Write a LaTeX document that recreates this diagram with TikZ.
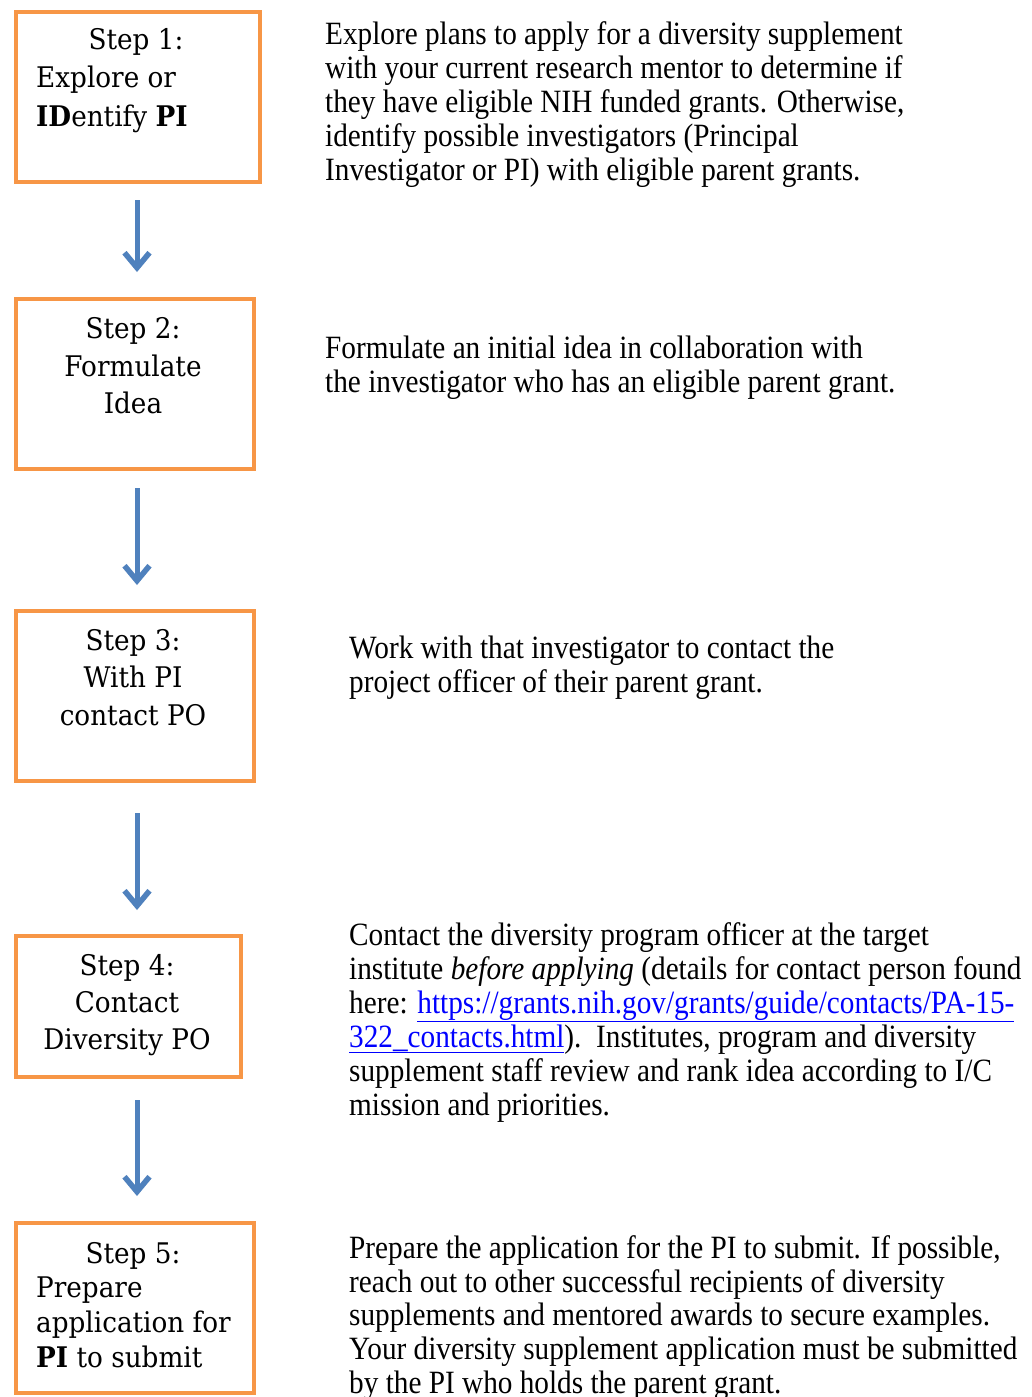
\documentclass[tikz,border=0pt]{standalone}
\usepackage{fontspec}
\setmainfont{Liberation Serif}
\newfontfamily\descfont[FakeStretch=0.9]{Liberation Serif}
\newfontfamily\boxfont[FakeStretch=0.925]{DejaVu Serif}
\usetikzlibrary{arrows.meta}
\definecolor{borange}{HTML}{F79646}
\definecolor{barrow}{HTML}{4F81BD}
\definecolor{linkblue}{HTML}{0000FF}
\begin{document}
\begin{tikzpicture}[x=1pt,y=-1pt,
  stepbox/.style={draw=borange,line width=4pt,inner sep=0pt,anchor=north west},
  desc/.style={anchor=base west,inner sep=0pt,font=\descfont\fontsize{32.5}{34}\selectfont},
  bt/.style={inner sep=0pt,anchor=base,font=\boxfont\fontsize{28.4}{37}\selectfont},
  btl/.style={bt,anchor=base west},
  flow/.style={draw=barrow,line width=5pt,-{Straight Barb[length=15pt,width=25pt,line width=5.5pt]}}]
\useasboundingbox (0,0) rectangle (1031,1397);
\clip (0,0) rectangle (1031,1397);
\fill[white] (0,0) rectangle (1031,1397);

% boxes
\node[stepbox,minimum width=244pt,minimum height=170pt] (b1) at (14,10) {};
\node[stepbox,minimum width=238pt,minimum height=170pt] (b2) at (14,297) {};
\node[stepbox,minimum width=238pt,minimum height=170pt] (b3) at (14,609) {};
\node[stepbox,minimum width=225pt,minimum height=141pt] (b4) at (14,934) {};
\node[stepbox,minimum width=238pt,minimum height=170pt] (b5) at (14,1221) {};

% box texts
\node[bt] (t1a) at (136,50) {Step 1:};
\node[btl] (t1b) at (36,88) {Explore or};
\node[btl] (t1c) at (36,126) {\textbf{ID}entify \textbf{PI}};

\node[bt] (t2a) at (133,338) {Step 2:};
\node[bt] (t2b) at (133,376) {Formulate};
\node[bt] (t2c) at (133,413) {Idea};

\node[bt] (t3a) at (133,650) {Step 3:};
\node[bt] (t3b) at (133,687) {With PI};
\node[bt] (t3c) at (133,725) {contact PO};

\node[bt] (t4a) at (127,975) {Step 4:};
\node[bt] (t4b) at (127,1012) {Contact};
\node[bt] (t4c) at (127,1049) {Diversity PO};

\node[bt] (t5a) at (133,1263) {Step 5:};
\node[btl] (t5b) at (36,1297) {Prepare};
\node[btl] (t5c) at (36,1332) {application for};
\node[btl] (t5d) at (36,1367) {\textbf{PI} to submit};

% arrows
\coordinate (a1s) at (137,200); \coordinate (a1e) at (137,272);
\coordinate (a2s) at (137,488); \coordinate (a2e) at (137,585);
\coordinate (a3s) at (137,813); \coordinate (a3e) at (137,910);
\coordinate (a4s) at (137,1100); \coordinate (a4e) at (137,1196);
\draw[flow] (a1s) -- (a1e);
\draw[flow] (a2s) -- (a2e);
\draw[flow] (a3s) -- (a3e);
\draw[flow] (a4s) -- (a4e);

% descriptions
\node[desc] (d1a) at (325,45) {Explore plans to apply for a diversity supplement};
\node[desc] (d1b) at (325,78) {with your current research mentor to determine if};
\node[desc] (d1c) at (325,112) {they have eligible NIH funded grants. Otherwise,};
\node[desc] (d1d) at (325,146) {identify possible investigators (Principal};
\node[desc] (d1e) at (325,180) {Investigator or PI) with eligible parent grants.};

\node[desc] (d2a) at (325,358) {Formulate an initial idea in collaboration with};
\node[desc] (d2b) at (325,392) {the investigator who has an eligible parent grant.};

\node[desc] (d3a) at (349,658) {Work with that investigator to contact the};
\node[desc] (d3b) at (349,692) {project officer of their parent grant.};

\node[desc] (d4a) at (349,945) {Contact the diversity program officer at the target};
\node[desc] (d4b) at (349,979) {institute \textit{before applying} (details for contact person found};
\node[desc] (d4c) at (349,1013) {here: \textcolor{linkblue}{\underline{https://grants.nih.gov/grants/guide/contacts/PA-15-}}};
\node[desc] (d4d) at (349,1047) {\textcolor{linkblue}{\underline{322\_contacts.html}}).\ \ Institutes, program and diversity};
\node[desc] (d4e) at (349,1081) {supplement staff review and rank idea according to I/C};
\node[desc] (d4f) at (349,1115) {mission and priorities.};

\node[desc] (d5a) at (349,1258) {Prepare the application for the PI to submit. If possible,};
\node[desc] (d5b) at (349,1292) {reach out to other successful recipients of diversity};
\node[desc] (d5c) at (349,1325) {supplements and mentored awards to secure examples.};
\node[desc] (d5d) at (349,1359) {Your diversity supplement application must be submitted};
\node[desc] (d5e) at (349,1393) {by the PI who holds the parent grant.};
\end{tikzpicture}
\end{document}
